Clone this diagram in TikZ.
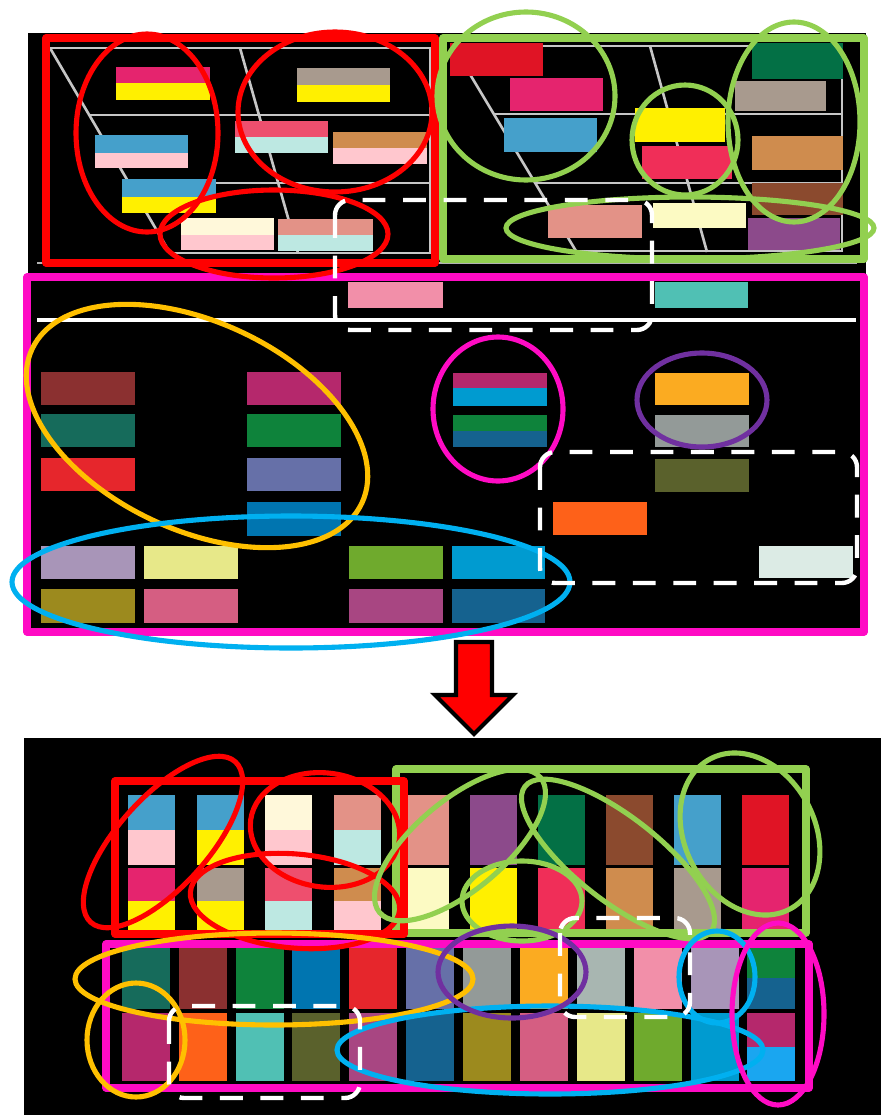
\documentclass[tikz,border=0pt]{standalone}
\usepackage{xcolor}

% frame and ring colours
\definecolor{frRed}{HTML}{FF0000}
\definecolor{frGreen}{HTML}{92D050}
\definecolor{frMag}{HTML}{FF0BC4}
\definecolor{rgOrange}{HTML}{FFC000}
\definecolor{rgCyan}{HTML}{00B0F0}
\definecolor{rgPurple}{HTML}{7030A0}
% bar colours
\definecolor{cMag}{HTML}{E5246E}
\definecolor{cYel}{HTML}{FFF000}
\definecolor{cTaupe}{HTML}{A89A8E}
\definecolor{cBlue}{HTML}{45A0CB}
\definecolor{cPink}{HTML}{FFC7CE}
\definecolor{cRose}{HTML}{EE4F6E}
\definecolor{cIce}{HTML}{BDE8E2}
\definecolor{cTan}{HTML}{CF8C4E}
\definecolor{cCream}{HTML}{FFF8DA}
\definecolor{cCreamB}{HTML}{FCFAC3}
\definecolor{cSalmon}{HTML}{E39287}
\definecolor{cRed}{HTML}{E01425}
\definecolor{cForest}{HTML}{037045}
\definecolor{cCrimson}{HTML}{F02E58}
\definecolor{cBrown}{HTML}{8B4A2E}
\definecolor{cPurple}{HTML}{8C4A8B}
\definecolor{cPinkLt}{HTML}{F28FA9}
\definecolor{cTeal}{HTML}{50C0B4}
\definecolor{cMaroon}{HTML}{8B3030}
\definecolor{cDkTeal}{HTML}{166B5B}
\definecolor{cScarlet}{HTML}{E6262C}
\definecolor{cLavender}{HTML}{A895B8}
\definecolor{cOlive}{HTML}{9C8A1E}
\definecolor{cLemon}{HTML}{E7E889}
\definecolor{cRosePk}{HTML}{D55E82}
\definecolor{cBerry}{HTML}{B5286C}
\definecolor{cGreen}{HTML}{0E833B}
\definecolor{cPeri}{HTML}{6670A8}
\definecolor{cOcean}{HTML}{0075B0}
\definecolor{cLime}{HTML}{6FAA2D}
\definecolor{cPlum}{HTML}{A84682}
\definecolor{cCyan}{HTML}{009BD0}
\definecolor{cNavy}{HTML}{15628F}
\definecolor{cAmber}{HTML}{FBAB21}
\definecolor{cGray}{HTML}{939A98}
\definecolor{cMoss}{HTML}{5A612C}
\definecolor{cFlame}{HTML}{FE6119}
\definecolor{cMint}{HTML}{DCEBE5}
\definecolor{cMintB}{HTML}{A8B6B1}
\definecolor{cSky}{HTML}{1AA6F0}

\tikzset{
  panelbox/.style={line width=2pt, line join=round},
  ring/.style={line width=1.45pt},
  gapbox/.style={white, line width=1.25pt, dash pattern=on 6.5pt off 5pt, rounded corners=4.3pt},
  chartline/.style={gray!45, line width=0.75pt},
}

\begin{document}
\begin{tikzpicture}[x=0.01cm, y=-0.01cm]
    \useasboundingbox[fill=white] (0,0) rectangle (881,1115);

    % Top panel background
    \fill[black] (28,33) rectangle (866,634);

    % Draw chart lines, left half
    \draw[chartline] (50,48) -- (430,48) -- (430,253) -- (170,253);
    \draw[chartline] (89,115) -- (430,115);
    \draw[chartline] (129,183) -- (430,183);
    \draw[chartline] (50,48) -- (170,253);
    \draw[chartline] (240,48) -- (298,253);
    % Draw chart lines, right half
    \draw[chartline] (453,46) -- (842,46) -- (842,251) -- (576,251);
    \draw[chartline] (494,114) -- (842,114);
    \draw[chartline] (535,183) -- (842,183);
    \draw[chartline] (453,46) -- (576,251);
    \draw[chartline] (650,46) -- (707,252);
    \draw[gray!60, line width=0.8pt] (37,263) -- (857,263);

    % Two-tone bars (left)
    \fill[cMag] (116,67) rectangle (210,83);   \fill[cYel] (116,83) rectangle (210,100);
    \fill[cTaupe] (297,68) rectangle (390,85); \fill[cYel] (297,85) rectangle (390,102);
    \fill[cBlue] (95,135) rectangle (188,153); \fill[cPink] (95,153) rectangle (188,168);
    \fill[cRose] (235,121) rectangle (328,137); \fill[cIce] (235,137) rectangle (328,153);
    \fill[cTan] (333,132) rectangle (427,148); \fill[cPink] (333,148) rectangle (427,164);
    \fill[cBlue] (122,179) rectangle (216,197); \fill[cYel] (122,197) rectangle (216,213);
    \fill[cCream] (181,218) rectangle (274,235); \fill[cPink] (181,235) rectangle (274,250);
    \fill[cSalmon] (278,219) rectangle (373,235); \fill[cIce] (278,235) rectangle (373,251);

    % Single bars (right)
    \fill[cRed] (450,43) rectangle (543,76);
    \fill[cMag] (510,78) rectangle (603,111);
    \fill[cBlue] (504,118) rectangle (597,152);
    \fill[cForest] (752,43) rectangle (843,79);
    \fill[cTaupe] (735,81) rectangle (826,111);
    \fill[cYel] (635,108) rectangle (725,142);
    \fill[cCrimson] (642,146) rectangle (732,179);
    \fill[cTan] (752,136) rectangle (843,170);
    \fill[cBrown] (752,183) rectangle (843,215);
    \fill[cSalmon] (548,205) rectangle (642,238);
    \fill[cCreamB] (653,203) rectangle (746,228);
    \fill[cPurple] (748,218) rectangle (840,250);

    % Middle section
    \fill[cPinkLt] (348,282) rectangle (443,308);
    \fill[cTeal] (655,282) rectangle (748,308);
    \draw[white, line width=0.9pt] (37,320) -- (856,320);
    \foreach \y/\ca/\cb in {372/cMaroon/cBerry, 414/cDkTeal/cGreen, 458/cScarlet/cPeri}
        {\fill[\ca] (41,\y) rectangle ++(94,33); \fill[\cb] (247,\y) rectangle ++(94,33);}
    \fill[cOcean] (247,502) rectangle (341,536);
    \fill[cLavender] (41,546) rectangle (135,579); \fill[cOlive] (41,589) rectangle (135,623);
    \fill[cLemon] (144,546) rectangle (238,579); \fill[cRosePk] (144,589) rectangle (238,623);
    \fill[cLime] (349,546) rectangle (443,579); \fill[cPlum] (349,589) rectangle (443,623);
    \fill[cCyan] (452,546) rectangle (545,579); \fill[cNavy] (452,589) rectangle (545,623);
    \fill[cBerry] (453,373) rectangle (547,388); \fill[cCyan] (453,388) rectangle (547,406);
    \fill[cGreen] (453,415) rectangle (547,431); \fill[cNavy] (453,431) rectangle (547,447);
    \fill[cAmber] (655,373) rectangle (749,405);
    \fill[cGray] (655,415) rectangle (749,447);
    \fill[cMoss] (655,459) rectangle (749,492);
    \fill[cFlame] (553,502) rectangle (647,535);
    \fill[cMint] (759,546) rectangle (853,578);

    % Frames (top)
    \draw[panelbox, frRed] (46,38) rectangle (435,263);
    \draw[panelbox, frGreen] (443,38) rectangle (864,259);
    \draw[panelbox, frMag] (27,277) rectangle (864,632);

    % Rings (top)
    \draw[ring, frRed] (147,133) ellipse (71 and 99);
    \draw[ring, frRed] (335,112) ellipse (97 and 80);
    \draw[ring, frRed] (274,234) ellipse (114 and 44);
    \draw[ring, frGreen] (526,96) ellipse (89 and 84);
    \draw[ring, frGreen] (685,140) ellipse (53 and 55);
    \draw[ring, frGreen] (794,122) ellipse (66 and 100);
    \draw[ring, frGreen] (690,228) ellipse (184 and 31);
    \draw[ring, rgOrange, rotate around={-25:(197,426)}] (197,426) ellipse (182 and 104);
    \draw[ring, rgCyan] (291,582) ellipse (279 and 66);
    \draw[ring, frMag] (498,409) ellipse (65 and 72);
    \draw[ring, rgPurple] (702,400) ellipse (65 and 47);
    \draw[gapbox] (335,200) rectangle (652,330);
    \draw[gapbox] (540,452) rectangle (857,583);

    % Arrow
    \draw[line width=1.2pt, fill=red, line join=miter] (456,642) -- (492,642) -- (492,695)
        -- (513,695) -- (474,734) -- (435,695) -- (456,695) -- cycle;

    % Bottom panel background
    \fill[black] (24,738) rectangle (881,1115);

    % Upper tiles
    \foreach \x/\ca/\cb/\cc/\cd in {128/cBlue/cPink/cMag/cYel, 197/cBlue/cYel/cTaupe/cYel,
        265/cCream/cPink/cRose/cIce, 334/cSalmon/cIce/cTan/cPink,
        402/cSalmon/cSalmon/cCreamB/cCreamB, 470/cPurple/cPurple/cYel/cYel,
        538/cForest/cForest/cCrimson/cCrimson, 606/cBrown/cBrown/cTan/cTan,
        674/cBlue/cBlue/cTaupe/cTaupe, 742/cRed/cRed/cMag/cMag}
    {
        \fill[\ca] (\x,795) rectangle ++(47,35);
        \fill[\cb] (\x,830) rectangle ++(47,35);
        \fill[\cc] (\x,868) rectangle ++(47,33);
        \fill[\cd] (\x,901) rectangle ++(47,34);
    }
    % Lower tiles
    \foreach \x/\ca/\cb/\cc/\cd in {122/cDkTeal/cDkTeal/cBerry/cBerry, 179/cMaroon/cMaroon/cFlame/cFlame,
        236/cGreen/cGreen/cTeal/cTeal, 292/cOcean/cOcean/cMoss/cMoss,
        349/cScarlet/cScarlet/cPlum/cPlum, 406/cPeri/cPeri/cNavy/cNavy,
        463/cGray/cGray/cOlive/cOlive, 520/cAmber/cAmber/cRosePk/cRosePk,
        577/cMintB/cMintB/cLemon/cLemon, 634/cPinkLt/cPinkLt/cLime/cLime,
        691/cLavender/cLavender/cCyan/cCyan, 747/cGreen/cNavy/cBerry/cSky}
    {
        \fill[\ca] (\x,947) rectangle ++(48,31);
        \fill[\cb] (\x,978) rectangle ++(48,31);
        \fill[\cc] (\x,1013) rectangle ++(48,34);
        \fill[\cd] (\x,1047) rectangle ++(48,34);
    }

    % Frames (bottom)
    \draw[panelbox, frGreen] (396,769) rectangle (806,933);
    \draw[panelbox, frRed] (115,781) rectangle (404,934);
    \draw[panelbox, frMag] (106,944) rectangle (809,1088);

    % Rings (bottom)
    \draw[ring, frRed, rotate around={48:(163,842)}] (163,842) ellipse (108 and 45);
    \draw[ring, frRed, rotate around={-8:(325,830)}] (325,830) ellipse (75 and 57);
    \draw[ring, frRed, rotate around={-5:(295,901)}] (295,901) ellipse (105 and 47);
    \draw[ring, frGreen, rotate around={40:(460,845)}] (460,845) ellipse (105 and 45);
    \draw[ring, frGreen, rotate around={-38:(618,859)}] (618,859) ellipse (118 and 42);
    \draw[ring, frGreen, rotate around={28:(750,834)}] (750,834) ellipse (65 and 85);
    \draw[ring, frGreen] (522,901) ellipse (60 and 40);
    \draw[ring, rgOrange] (274,979) ellipse (199 and 46);
    \draw[ring, rgOrange] (136,1040) ellipse (49 and 57);
    \draw[ring, rgCyan] (550,1050) ellipse (213 and 44);
    \draw[ring, rgPurple] (512,972) ellipse (74 and 46);
    \draw[ring, rgCyan] (717,977) ellipse (38 and 46);
    \draw[ring, frMag] (778,1014) ellipse (46 and 91);
    \draw[gapbox] (169,1006) rectangle (360,1098);
    \draw[gapbox] (560,918) rectangle (690,1017);
\end{tikzpicture}
\end{document}
